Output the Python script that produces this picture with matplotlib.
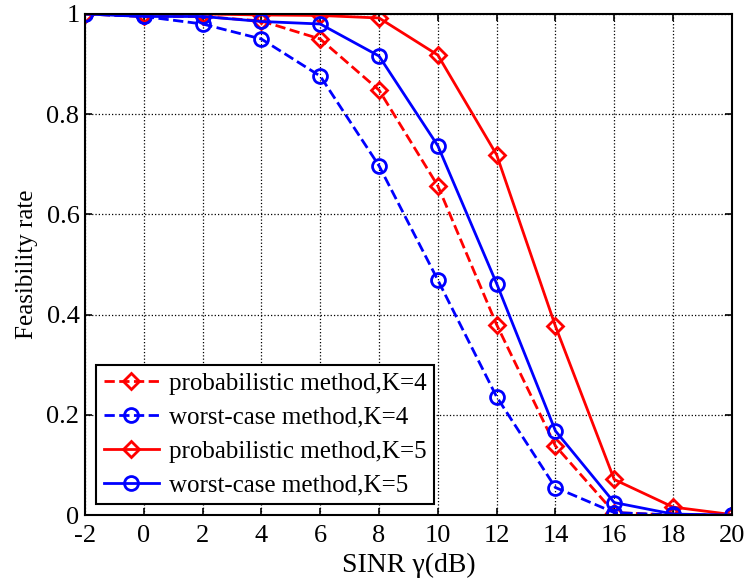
import numpy as np
import matplotlib.pyplot as plt

plt.rcParams['font.family'] = ['Liberation Serif', 'DejaVu Serif']
plt.rcParams['axes.unicode_minus'] = False

sinr = [-2, 0, 2, 4, 6, 8, 10, 12, 14, 16, 18, 20]
prob_k4 = [1.0, 0.995, 0.995, 0.986, 0.95, 0.848, 0.657, 0.38, 0.138, 0.005, 0.0, 0.0]
worst_k4 = [1.0, 0.995, 0.98, 0.95, 0.876, 0.697, 0.469, 0.236, 0.055, 0.005, 0.0, 0.0]
prob_k5 = [1.0, 1.0, 1.0, 0.998, 0.997, 0.992, 0.918, 0.719, 0.377, 0.071, 0.016, 0.001]
worst_k5 = [1.0, 0.995, 0.995, 0.985, 0.98, 0.916, 0.737, 0.462, 0.168, 0.025, 0.002, 0.0]

fig = plt.figure(figsize=(7.46, 5.82), dpi=100)
ax = fig.add_axes([0.114, 0.115, 0.867, 0.861])

ms = 10
ax.plot(sinr, prob_k4, '--', color='red', lw=2, marker='D', ms=ms * 0.85, mfc='none', mew=2,
        label='probabilistic method,K=4')
ax.plot(sinr, worst_k4, '--', color='blue', lw=2, marker='o', ms=ms, mfc='none', mew=2,
        label='worst-case method,K=4')
ax.plot(sinr, prob_k5, '-', color='red', lw=2, marker='D', ms=ms * 0.85, mfc='none', mew=2,
        label='probabilistic method,K=5')
ax.plot(sinr, worst_k5, '-', color='blue', lw=2, marker='o', ms=ms, mfc='none', mew=2,
        label='worst-case method,K=5')

ax.set_xlim(-2, 20)
ax.set_ylim(0, 1)
ax.set_xticks(range(-2, 21, 2))
ax.set_yticks([0, 0.2, 0.4, 0.6, 0.8, 1])
ax.set_yticklabels(['0', '0.2', '0.4', '0.6', '0.8', '1'])
ax.grid(True, color='black', linestyle=':', linewidth=0.9)
ax.tick_params(direction='in', top=True, right=True, labelsize=19, length=5, width=1.2)
ax.tick_params(axis='x', pad=7)
ax.tick_params(axis='y', pad=4)
for s in ax.spines.values():
    s.set_linewidth(1.5)

ax.set_xlabel('SINR γ(dB)', fontsize=20, labelpad=4)
ax.set_ylabel('Feasibility rate', fontsize=18, labelpad=6)

leg = ax.legend(loc='lower left', fontsize=18, fancybox=False, framealpha=1,
                edgecolor='black', handlelength=2.2, borderpad=0.3, labelspacing=0.45,
                handletextpad=0.4, borderaxespad=0.45)
leg.get_frame().set_linewidth(1.5)

fig.savefig('out.png', dpi=100)
